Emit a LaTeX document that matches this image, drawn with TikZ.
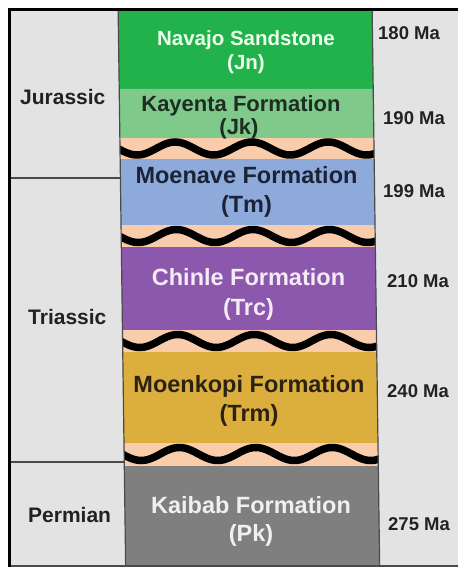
\documentclass[tikz,border=0pt]{standalone}
\usepackage{fontspec}
\setmainfont{Liberation Sans}
\definecolor{bggray}{HTML}{E3E3E3}
\definecolor{navajo}{HTML}{22B24C}
\definecolor{kayenta}{HTML}{7FC98A}
\definecolor{peach}{HTML}{F9CDAC}
\definecolor{moenave}{HTML}{8EAADB}
\definecolor{chinle}{HTML}{8B58AD}
\definecolor{moenkopi}{HTML}{DCAE3D}
\definecolor{kaibab}{HTML}{7F7F7F}
\definecolor{darktxt}{HTML}{222222}
\definecolor{edgegray}{HTML}{4A4A4A}
\definecolor{tmtxt}{HTML}{1C2338}
\definecolor{jktxt}{HTML}{1E2E20}
\definecolor{trmtxt}{HTML}{2A2312}
\newcommand\geolayer[3]{\fill[#1] (118,#2) -- (372,#2) -- (372,#3) -- (118,#3) -- cycle;}
\begin{document}
\begin{tikzpicture}[x=1pt,y=-1pt,
  lbl/.style={anchor=base west, text=darktxt, font=\bfseries\fontsize{21}{24}\selectfont, inner sep=0pt},
  age/.style={anchor=base west, text=darktxt, font=\bfseries\fontsize{18.5}{22}\selectfont, inner sep=0pt},
  fm/.style={anchor=base, font=\bfseries\fontsize{23.5}{28}\selectfont, inner sep=0pt},
  wave/.style={line width=7.5pt, black},
  colline/.style={line width=1.2pt, edgegray},
  sepline/.style={line width=2pt, edgegray}]
\useasboundingbox (0,0) rectangle (458,567);
\fill[white] (0,0) rectangle (458,567);
\fill[bggray] (9,9) rectangle (458,566);
\begin{scope}[xslant=-0.0135]
  \geolayer{navajo}{9}{89}
  \geolayer{kayenta}{89}{138}
  \geolayer{peach}{138}{159}
  \geolayer{moenave}{159}{225}
  \geolayer{peach}{225}{247}
  \geolayer{chinle}{247}{330}
  \geolayer{peach}{330}{352}
  \geolayer{moenkopi}{352}{443}
  \geolayer{peach}{443}{466}
  \geolayer{kaibab}{466}{566}
  \begin{scope}
    \clip (118,9) -- (372,9) -- (372,566) -- (118,566) -- cycle;
    \foreach \yc in {148.5,236,341,454}
      \draw[wave] plot[domain=110:380, samples=120, smooth] (\x,{\yc+6.5*cos((\x-135)*4.70588)});
  \end{scope}
  \draw[colline] (118,9) -- (118,566);
  \draw[colline] (372,9) -- (372,566);
  \coordinate (sepA) at (118,178);
  \coordinate (sepB) at (118,462);
\end{scope}
% period separators in left column
\coordinate (sepAl) at (9,178);
\coordinate (sepBl) at (9,462);
\draw[sepline] (sepAl) -- (sepA);
\draw[sepline] (sepBl) -- (sepB);
% formation names
\node[fm, text=white!92!green, font=\bfseries\fontsize{20.5}{24}\selectfont] (jn1) at (246,46) {Navajo Sandstone};
\node[fm, text=white!92!green, font=\bfseries\fontsize{20.5}{24}\selectfont] (jn2) at (246,70) {(Jn)};
\node[fm, text=jktxt, font=\bfseries\fontsize{22}{26}\selectfont] (jk1) at (241,112) {Kayenta Formation};
\node[fm, text=jktxt, font=\bfseries\fontsize{22}{26}\selectfont] (jk2) at (239,135) {(Jk)};
\node[fm, text=tmtxt] (tm1) at (246.5,183) {Moenave Formation};
\node[fm, text=tmtxt] (tm2) at (246.5,212) {(Tm)};
\node[fm, text=white!92!violet] (trc1) at (248.5,285) {Chinle Formation};
\node[fm, text=white!92!violet] (trc2) at (248.5,315) {(Trc)};
\node[fm, text=trmtxt] (trm1) at (249,392) {Moenkopi Formation};
\node[fm, text=trmtxt] (trm2) at (249,421) {(Trm)};
\node[fm, text=white!94!black] (pk1) at (251,513) {Kaibab Formation};
\node[fm, text=white!94!black] (pk2) at (251,541) {(Pk)};
% periods
\node[lbl] (jur) at (20,104.5) {Jurassic};
\node[lbl] (tri) at (28,324.5) {Triassic};
\node[lbl] (per) at (28,522) {Permian};
% ages
\node[age] (a180) at (378,39.5) {180 Ma};
\node[age] (a190) at (383,124.5) {190 Ma};
\node[age] (a199) at (383,197.5) {199 Ma};
\node[age] (a210) at (387,287) {210 Ma};
\node[age] (a240) at (387,397) {240 Ma};
\node[age] (a275) at (388,530) {275 Ma};
% frame
\draw[line width=2pt, edgegray] (9,565.5) -- (458,565.5);
\draw[line width=3pt, black] (8,9.5) -- (458,9.5);
\draw[line width=3pt, black] (9.5,8) -- (9.5,567);
\end{tikzpicture}
\end{document}
